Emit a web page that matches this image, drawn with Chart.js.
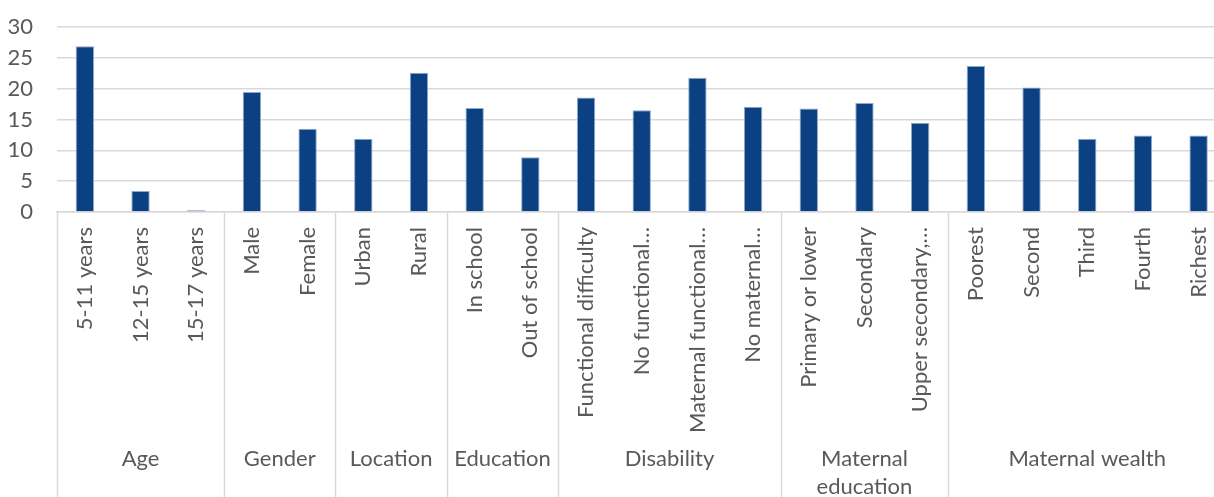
<!DOCTYPE html>
<html>
<head>
<meta charset="utf-8">
<script src="https://cdn.jsdelivr.net/npm/chart.js@4"></script>
<style>
  html, body { margin: 0; padding: 0; background: #fff; overflow: hidden; }
  #wrap { width: 1214px; height: 497px; overflow: hidden; }
  #chart { display: block; margin-top: -10px; }
</style>
</head>
<body>
<div id="wrap"><canvas id="chart" width="1240" height="507"></canvas></div>
<script>
// Categories, grouped as in the reference
const categories = [
    '5-11 years', '12-15 years', '15-17 years',
    'Male', 'Female',
    'Urban', 'Rural',
    'In school', 'Out of school',
    'Functional difficulty', 'No functional…', 'Maternal functional…', 'No maternal…',
    'Primary or lower', 'Secondary', 'Upper secondary,…',
    'Poorest', 'Second', 'Third', 'Fourth', 'Richest'
];
const groupNames = ['Age', 'Gender', 'Location', 'Education', 'Disability', ['Maternal', 'education'], 'Maternal wealth'];
const groupSizes = [3, 2, 2, 2, 4, 3, 5];

// Series values
const values = [
    26.9, 3.4, 0.3,
    19.5, 13.5,
    11.9, 22.6,
    16.9, 8.9,
    18.6, 16.5, 21.8, 17.1,
    16.8, 17.7, 14.5,
    23.7, 20.2, 11.9, 12.4, 12.4
];

const yMin = 0;
const yMax = 30;
const yStep = 5;

const TEXT = '#595959';
const GRID = '#d9d9d9';
const FONT = 'Lato';

// Draws the group separators and group names under the category labels
const groupAxisPlugin = {
    id: 'groupAxis',
    afterDraw(chart) {
        const { ctx, chartArea } = chart;
        const x = chart.scales.x;
        const half = (x.getPixelForValue(1) - x.getPixelForValue(0)) / 2;
        let start = 0;
        ctx.save();
        ctx.strokeStyle = GRID;
        ctx.lineWidth = 1.5;
        ctx.fillStyle = TEXT;
        ctx.font = '22px ' + FONT;
        ctx.textAlign = 'center';
        ctx.textBaseline = 'middle';
        groupSizes.forEach((n, g) => {
            const left = Math.round(x.getPixelForValue(start) - half) + 0.5;
            ctx.beginPath();
            ctx.moveTo(left, chartArea.bottom);
            ctx.lineTo(left, chart.height);
            ctx.stroke();
            const mid = (x.getPixelForValue(start) + x.getPixelForValue(start + n - 1)) / 2;
            [].concat(groupNames[g]).forEach((t, i) => {
                ctx.fillText(t, mid, chartArea.bottom + 247 + i * 28);
            });
            start += n;
        });
        ctx.restore();
    }
};

new Chart(document.getElementById('chart'), {
    type: 'bar',
    data: {
        labels: categories,
        datasets: [{
            data: values,
            backgroundColor: '#0b4083',
            borderColor: '#8ea9cf',
            borderWidth: 1,
            barPercentage: 0.33,
            categoryPercentage: 1
        }]
    },
    options: {
        responsive: false,
        animation: false,
        layout: {
            padding: { top: 0, right: 0, bottom: 0, left: 0 }
        },
        plugins: {
            legend: { display: false },
            tooltip: { enabled: false }
        },
        scales: {
            x: {
                offset: true,
                grid: { display: false, drawTicks: false },
                border: { display: true, color: GRID, width: 1.5 },
                ticks: {
                    minRotation: 90,
                    maxRotation: 90,
                    autoSkip: false,
                    padding: 15,
                    color: TEXT,
                    font: { family: FONT, size: 22 }
                },
                afterFit: (scale) => { scale.height = 285; }
            },
            y: {
                min: yMin,
                max: yMax,
                grid: { color: GRID, lineWidth: 1.5, drawTicks: false },
                border: { display: false },
                ticks: {
                    stepSize: yStep,
                    autoSkip: false,
                    padding: 24,
                    color: TEXT,
                    font: { family: FONT, size: 22 }
                },
                afterFit: (scale) => { scale.width = 57; }
            }
        }
    },
    plugins: [groupAxisPlugin]
});
</script>
</body>
</html>
